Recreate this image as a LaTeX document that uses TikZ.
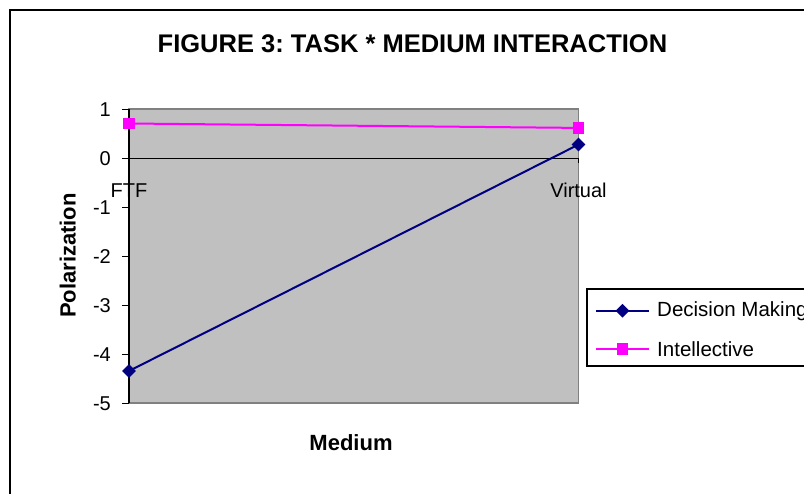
\documentclass[tikz,border=0pt]{standalone}
\usepackage{fontspec}
\setmainfont{Liberation Sans}
\usetikzlibrary{shapes.geometric}
\frenchspacing

\definecolor{plotfill}{HTML}{C0C0C0}
\definecolor{plotedge}{HTML}{808080}
\definecolor{dmnavy}{HTML}{000080}
\definecolor{intmag}{HTML}{FF00FF}

\tikzset{
  ticklabel/.style={font=\fontsize{20}{24}\selectfont, inner sep=0pt},
  axistitle/.style={font=\fontsize{22}{26}\selectfont\bfseries, inner sep=0pt},
  legendtext/.style={font=\fontsize{20.5}{24}\selectfont, inner sep=0pt, anchor=base west},
  dmline/.style={draw=dmnavy, line width=2pt},
  intline/.style={draw=intmag, line width=2pt},
  dmmark/.style={diamond, fill=dmnavy, inner sep=0pt, minimum width=14pt, minimum height=14pt},
  intmark/.style={rectangle, fill=intmag, inner sep=0pt, minimum size=11.5pt},
}

\begin{document}
\begin{tikzpicture}[x=1pt, y=-1pt]
\useasboundingbox (0,0) rectangle (804,494);
\clip (0,0) rectangle (804,494);
\fill[white] (0,0) rectangle (804,494);

% outer chart frame (runs past the right and bottom edges)
\draw[line width=2pt] (10,10) rectangle (830,520);

% chart title
\node[font=\fontsize{25.5}{30}\selectfont\bfseries, inner sep=0pt, anchor=base]
  (title) at (412.5,52.3) {FIGURE 3: TASK * MEDIUM INTERACTION};

% axis titles
\node[axistitle, anchor=base] (xtitle) at (351,450) {Medium};
\node[axistitle, anchor=base, rotate=90] (ytitle) at (75.5,255.5) {Polarization};

% plot area in data coordinates: x = category (0 = FTF, 1 = Virtual), y = polarization
\begin{scope}[xshift=129pt, yshift=-158.3pt, x=449.5pt, y=49pt]
  \filldraw[fill=plotfill, draw=plotedge, line width=1.8pt] (0,-5) rectangle (1,1);

  % value axis with ticks and labels
  \draw[line width=1.5pt] (0,-5) -- (0,1);
  \foreach \v in {1,0,-1,-2,-3,-4,-5} {
    \draw[line width=1.2pt] (0,\v) -- ++(-7.5pt,0pt);
    \node[ticklabel, anchor=east] (ylab\v) at ([xshift=-18pt]0,\v) {\v};
  }

  % category axis at zero
  \draw[line width=1.5pt] (0,0) -- (1,0);
  \draw[line width=1.2pt] (1,0) -- ++(0pt,-5pt);
  \draw[line width=1.2pt] (0,0) -- ++(0pt,-5pt);
  \node[ticklabel, anchor=base] (catftf) at (0,-0.79) {FTF};
  \node[ticklabel, anchor=base] (catvirt) at (1,-0.79) {Virtual};

  % data points
  \coordinate (dm1) at (0,-4.34);
  \coordinate (dm2) at (1,0.28);
  \coordinate (in1) at (0,0.71);
  \coordinate (in2) at (1,0.62);

  % series lines
  \draw[intline] (in1) -- (in2);
  \draw[dmline] (dm1) -- (dm2);

  % series markers
  \node[intmark] (inm1) at (in1) {};
  \node[intmark] (inm2) at (in2) {};
  \node[dmmark] (dmm1) at (dm1) {};
  \node[dmmark] (dmm2) at (dm2) {};
\end{scope}

% legend (box runs past the right edge)
\draw[line width=1.5pt] (587,289) rectangle (840,366);
\coordinate (lga) at (596,310.7);
\coordinate (lgb) at (649,310.7);
\coordinate (lgc) at (596,349);
\coordinate (lgd) at (649,349);
\draw[dmline] (lga) -- (lgb);
\node[dmmark] (lgdm) at (622.5,310.7) {};
\draw[intline] (lgc) -- (lgd);
\node[intmark] (lgint) at (622.5,349) {};
\node[legendtext] (lgdmtext) at (657,317) {Decision Making};
\node[legendtext] (lginttext) at (657,356.5) {Intellective};
\end{tikzpicture}
\end{document}
